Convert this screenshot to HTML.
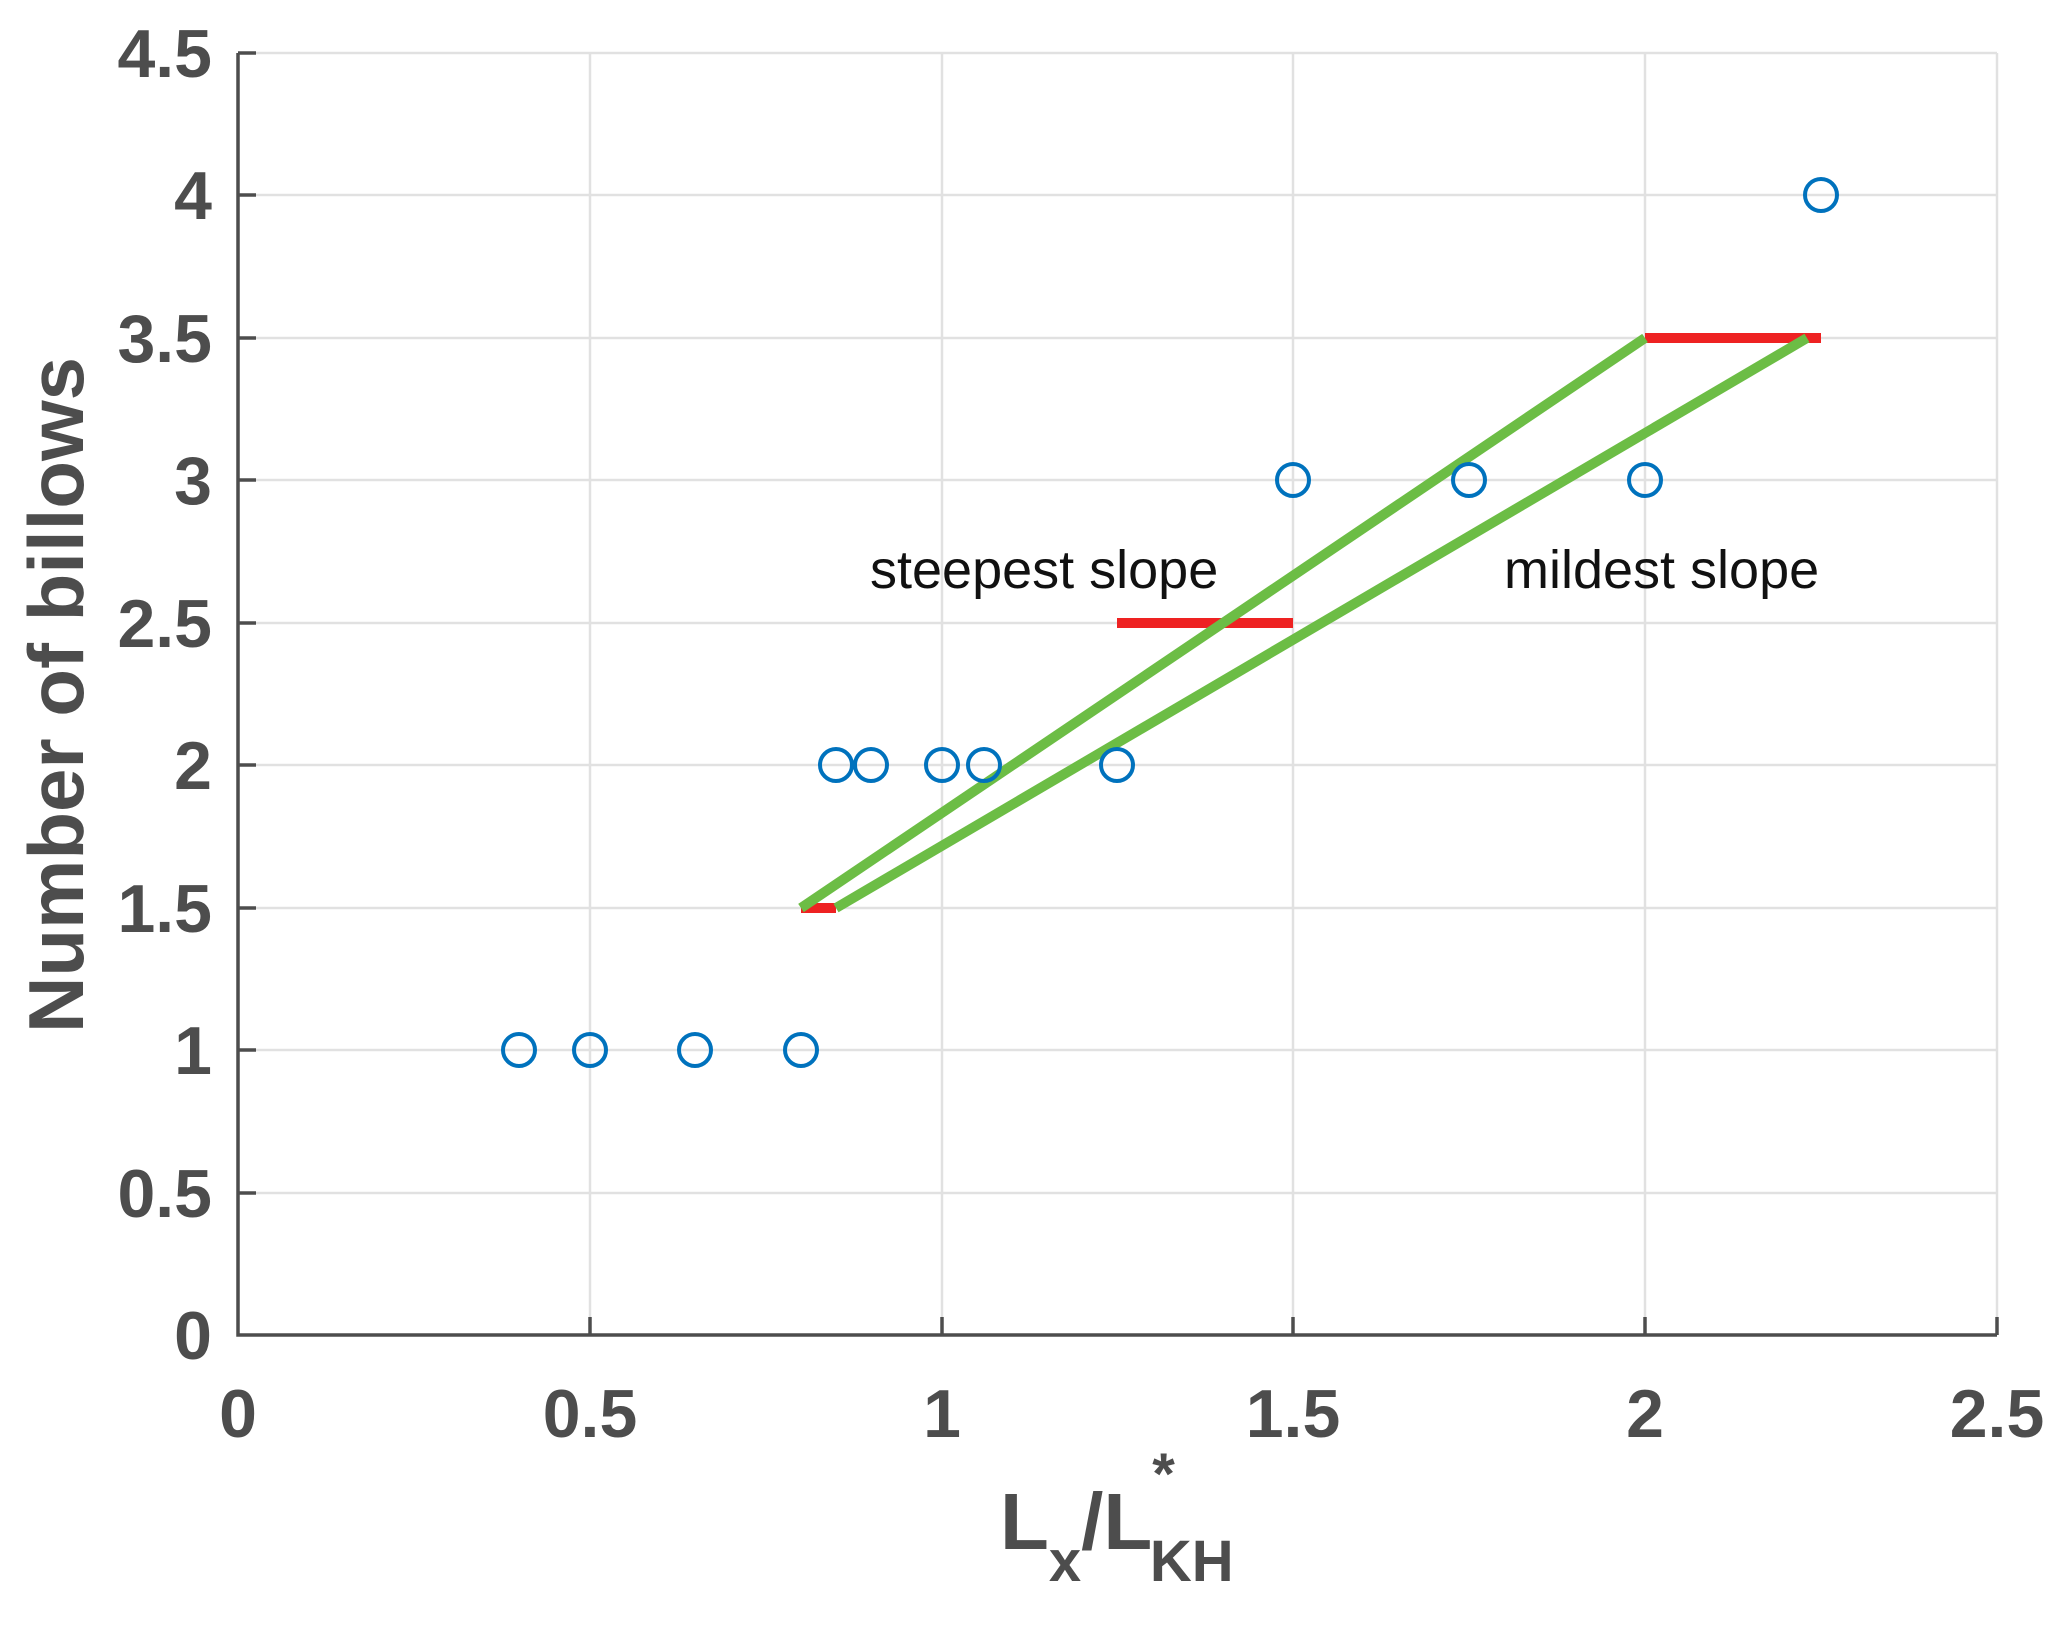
<!DOCTYPE html>
<html><head><meta charset="utf-8"><style>html,body{margin:0;padding:0;background:#fff}</style></head><body>
<svg width="2066" height="1621" xmlns="http://www.w3.org/2000/svg" font-family="Liberation Sans, sans-serif">
<rect width="2066" height="1621" fill="#fff"/>
<g stroke="#e1e1e1" stroke-width="2.5">
<line x1="590" y1="53" x2="590" y2="1335"/><line x1="942" y1="53" x2="942" y2="1335"/><line x1="1293" y1="53" x2="1293" y2="1335"/><line x1="1645" y1="53" x2="1645" y2="1335"/><line x1="1997" y1="53" x2="1997" y2="1335"/>
<line x1="238" y1="53" x2="1997" y2="53"/><line x1="238" y1="195" x2="1997" y2="195"/><line x1="238" y1="338" x2="1997" y2="338"/><line x1="238" y1="480" x2="1997" y2="480"/><line x1="238" y1="623" x2="1997" y2="623"/><line x1="238" y1="765" x2="1997" y2="765"/><line x1="238" y1="908" x2="1997" y2="908"/><line x1="238" y1="1050" x2="1997" y2="1050"/><line x1="238" y1="1193" x2="1997" y2="1193"/>
</g>
<g stroke="#4d4d4d" stroke-width="3.5" fill="none">
<polyline points="238,53 238,1335 1997,1335"/>
<line x1="590" y1="1335" x2="590" y2="1317"/><line x1="942" y1="1335" x2="942" y2="1317"/><line x1="1293" y1="1335" x2="1293" y2="1317"/><line x1="1645" y1="1335" x2="1645" y2="1317"/><line x1="1997" y1="1335" x2="1997" y2="1317"/>
<line x1="238" y1="53" x2="256" y2="53"/><line x1="238" y1="195" x2="256" y2="195"/><line x1="238" y1="338" x2="256" y2="338"/><line x1="238" y1="480" x2="256" y2="480"/><line x1="238" y1="623" x2="256" y2="623"/><line x1="238" y1="765" x2="256" y2="765"/><line x1="238" y1="908" x2="256" y2="908"/><line x1="238" y1="1050" x2="256" y2="1050"/><line x1="238" y1="1193" x2="256" y2="1193"/>
</g>
<g fill="#4d4d4d" font-weight="bold" font-size="68" text-anchor="end">
<text x="212" y="77">4.5</text><text x="212" y="219">4</text><text x="212" y="362">3.5</text><text x="212" y="504">3</text><text x="212" y="647">2.5</text><text x="212" y="789">2</text><text x="212" y="932">1.5</text><text x="212" y="1074">1</text><text x="212" y="1217">0.5</text><text x="212" y="1359">0</text>
</g>
<g fill="#4d4d4d" font-weight="bold" font-size="68" text-anchor="middle">
<text x="238" y="1437">0</text><text x="590" y="1437">0.5</text><text x="942" y="1437">1</text><text x="1293" y="1437">1.5</text><text x="1645" y="1437">2</text><text x="1997" y="1437">2.5</text>
</g>
<text transform="translate(83,695) rotate(-90)" fill="#4d4d4d" font-weight="bold" font-size="78" text-anchor="middle">Number of billows</text>
<text x="1000" y="1549" fill="#4d4d4d" font-weight="bold" font-size="80">L<tspan font-size="58" dy="32">x</tspan><tspan dy="-32">/L</tspan><tspan font-size="58" dy="-55">*</tspan><tspan font-size="58" dx="-25" dy="87">KH</tspan></text>
<g stroke="#ee2222" stroke-width="10">
<line x1="801" y1="908" x2="836" y2="908"/><line x1="1117" y1="623" x2="1293" y2="623"/><line x1="1645" y1="338" x2="1821" y2="338"/>
</g>
<g stroke="#6cbd45" stroke-width="10">
<line x1="801" y1="908" x2="1645" y2="338"/><line x1="836" y1="908" x2="1807" y2="338"/>
</g>
<g stroke="#0072bd" stroke-width="4" fill="none">
<circle cx="519" cy="1050" r="16"/><circle cx="590" cy="1050" r="16"/><circle cx="695" cy="1050" r="16"/><circle cx="801" cy="1050" r="16"/>
<circle cx="836" cy="765" r="16"/><circle cx="871" cy="765" r="16"/><circle cx="942" cy="765" r="16"/><circle cx="984" cy="765" r="16"/><circle cx="1117" cy="765" r="16"/>
<circle cx="1293" cy="480" r="16"/><circle cx="1469" cy="480" r="16"/><circle cx="1645" cy="480" r="16"/><circle cx="1821" cy="195" r="16"/>
</g>
<g fill="#111" font-size="54">
<text x="870" y="588">steepest slope</text><text x="1504" y="588">mildest slope</text>
</g>
</svg>
</body></html>
